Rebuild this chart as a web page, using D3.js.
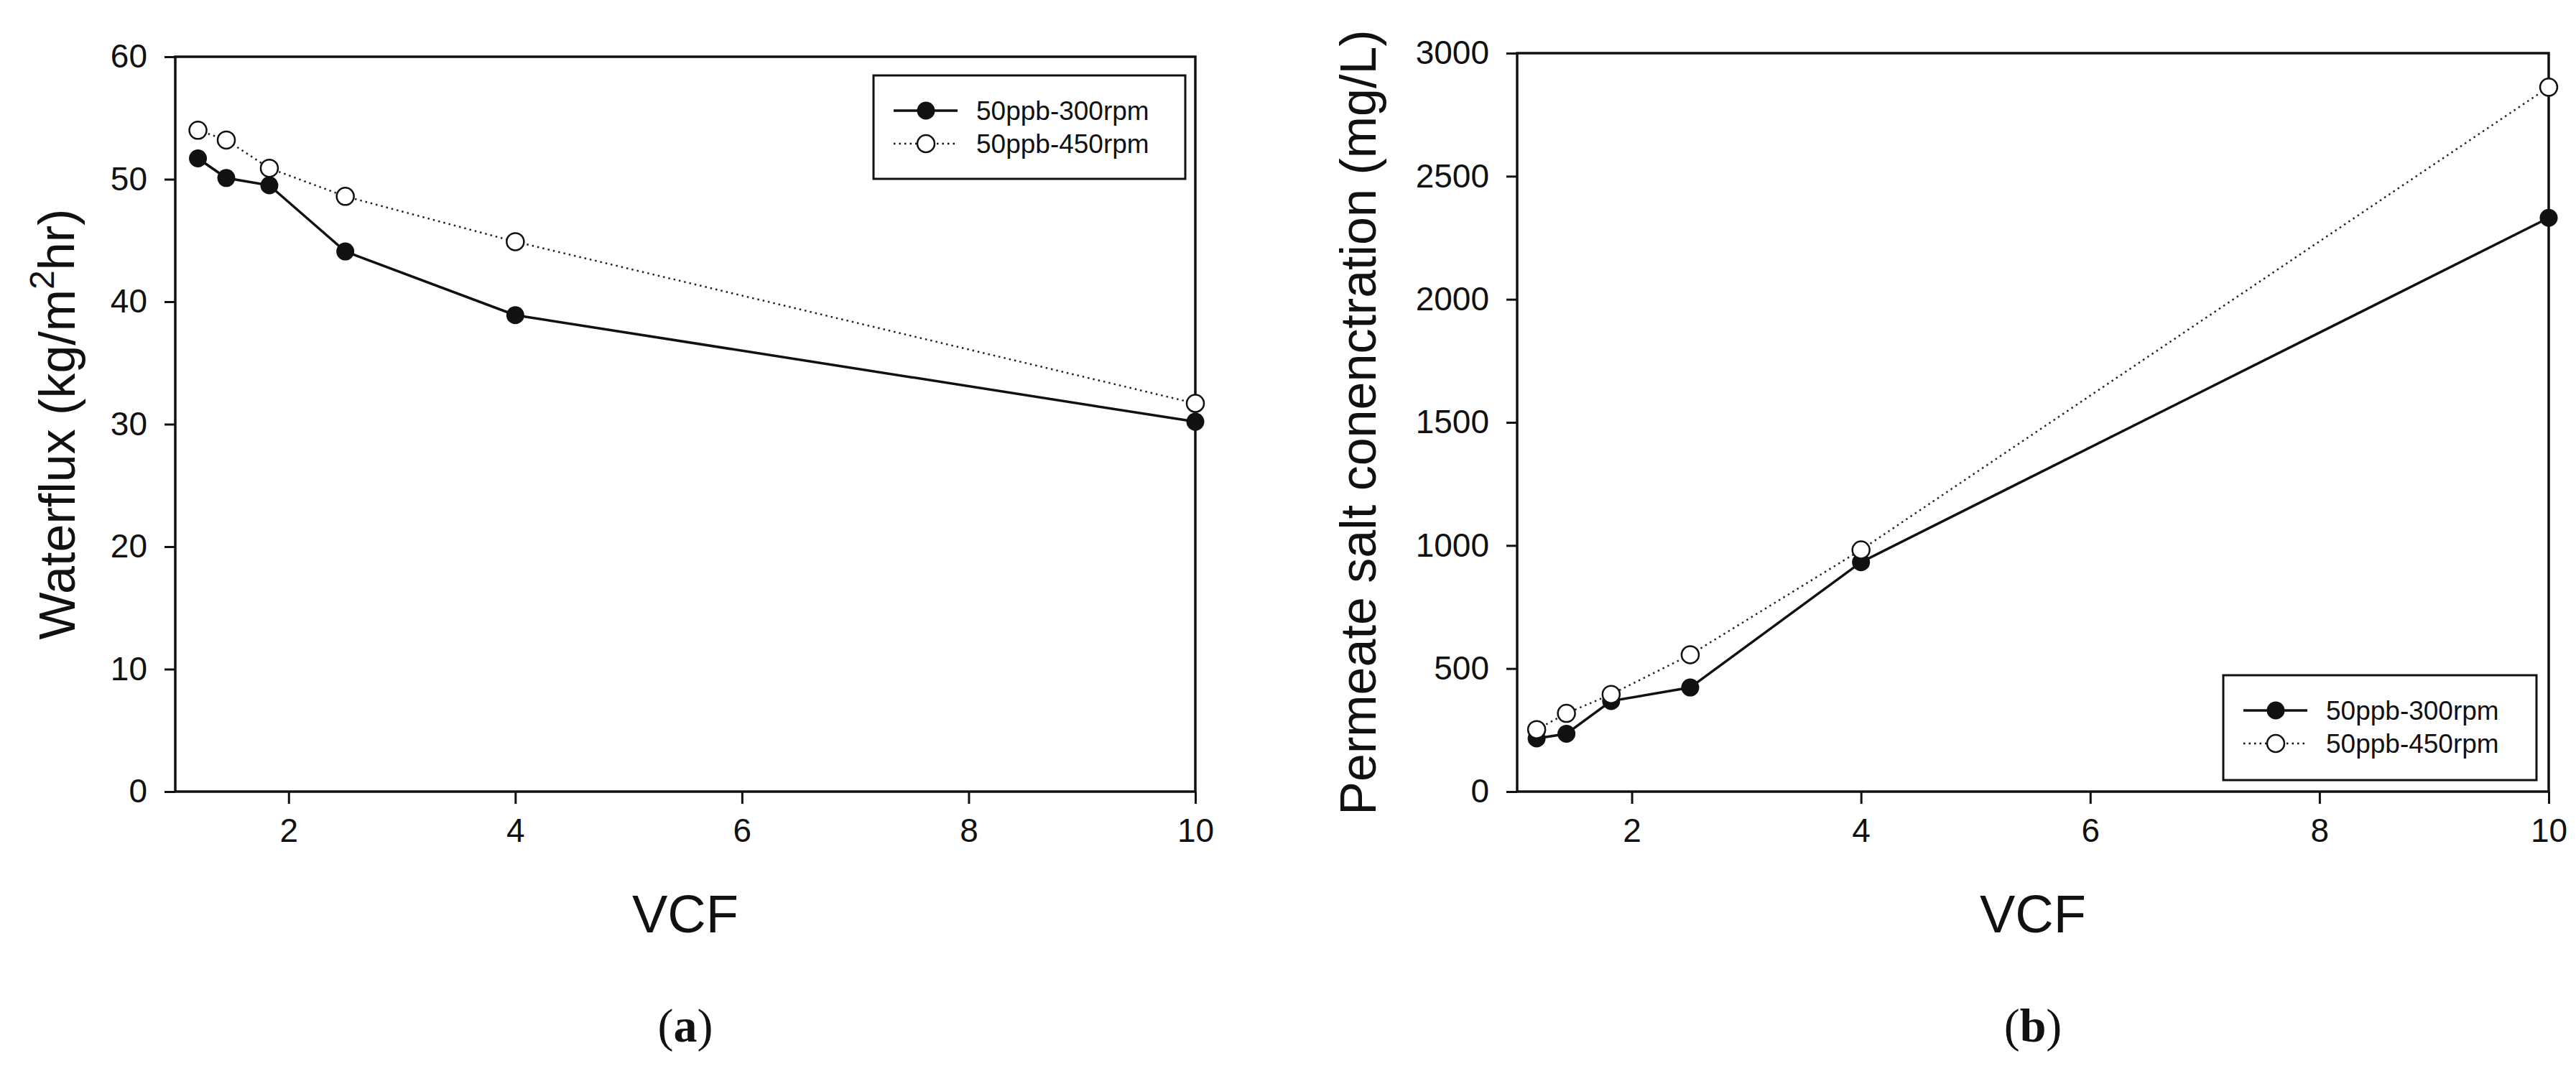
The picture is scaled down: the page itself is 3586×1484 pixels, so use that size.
<!DOCTYPE html>
<html>
<head>
<meta charset="utf-8">
<script src="https://cdn.jsdelivr.net/npm/d3@7"></script>
<style>
  body { margin: 0; background: #fff; }
  text { font-family: Arial, "Liberation Sans", sans-serif; fill: #111; }
</style>
</head>
<body>
<script>
// panel (a): water flux
const vcfA = [1.2, 1.45, 1.83, 2.5, 4, 10];
const fluxA300 = [51.7, 50.1, 49.5, 44.1, 38.9, 30.2];
const fluxA450 = [54.0, 53.2, 50.9, 48.6, 44.9, 31.7];
// panel (b): permeate salt
const vcfB = [1.17, 1.43, 1.82, 2.51, 4, 10];
const saltB300 = [216, 235, 368, 423, 932, 2331];
const saltB450 = [252, 318, 395, 556, 982, 2862];

const xTicks = [2, 4, 6, 8, 10];
const yTicksA = [0, 10, 20, 30, 40, 50, 60];
const yTicksB = [0, 500, 1000, 1500, 2000, 2500, 3000];
const seriesNames = ["50ppb-300rpm", "50ppb-450rpm"];

const svg = d3.select("body").append("svg")
    .attr("width", 3586).attr("height", 1484);

let drawPanel = function(p) {
    let x = d3.scaleLinear().domain([1, 10]).range([p.left, p.right]);
    let y = d3.scaleLinear().domain([0, p.yMax]).range([p.bottom, p.top]);
    let g = svg.append("g");

    g.append("g")
        .attr("transform", `translate(0,${p.bottom})`)
        .call(d3.axisBottom(x).tickValues(xTicks).tickFormat(d3.format("d")).tickSize(17).tickPadding(20))
        .call(a => a.select(".domain").remove())
        .call(a => a.selectAll("line").attr("stroke", "#111").attr("stroke-width", 3))
        .call(a => a.selectAll("text").attr("font-size", 46).attr("dy", "0.71em"));

    g.append("g")
        .attr("transform", `translate(${p.left},0)`)
        .call(d3.axisLeft(y).tickValues(p.yTicks).tickFormat(d3.format("d")).tickSize(15).tickPadding(24))
        .call(a => a.select(".domain").remove())
        .call(a => a.selectAll("line").attr("stroke", "#111").attr("stroke-width", 3))
        .call(a => a.selectAll("text").attr("font-size", 46));

    g.append("rect")
        .attr("x", p.left).attr("y", p.top)
        .attr("width", p.right - p.left).attr("height", p.bottom - p.top)
        .attr("fill", "none").attr("stroke", "#111").attr("stroke-width", 3.5);

    let line = d3.line().x(d => x(d[0])).y(d => y(d[1]));
    let s300 = p.xs.map((v, i) => [v, p.y300[i]]);
    let s450 = p.xs.map((v, i) => [v, p.y450[i]]);

    g.append("path").datum(s450).attr("d", line)
        .attr("fill", "none").attr("stroke", "#222").attr("stroke-width", 2.5)
        .attr("stroke-dasharray", "2.5,5");
    g.append("path").datum(s300).attr("d", line)
        .attr("fill", "none").attr("stroke", "#111").attr("stroke-width", 3.5);

    g.selectAll(".m300").data(s300).enter().append("circle")
        .attr("cx", d => x(d[0])).attr("cy", d => y(d[1])).attr("r", 12.5)
        .attr("fill", "#111");
    g.selectAll(".m450").data(s450).enter().append("circle")
        .attr("cx", d => x(d[0])).attr("cy", d => y(d[1])).attr("r", 12)
        .attr("fill", "#fff").attr("stroke", "#111").attr("stroke-width", 2.5);

    // legend
    let L = p.legend;
    g.append("rect").attr("x", L.x).attr("y", L.y).attr("width", L.w).attr("height", L.h)
        .attr("fill", "#fff").attr("stroke", "#111").attr("stroke-width", 3);
    seriesNames.forEach((name, i) => {
        let ly = L.y + 49 + i * 46;
        let lx = L.x + 28;
        g.append("line").attr("x1", lx).attr("x2", lx + 89).attr("y1", ly).attr("y2", ly)
            .attr("stroke", "#111")
            .attr("stroke-width", i == 0 ? 3.5 : 2.5)
            .attr("stroke-dasharray", i == 0 ? null : "2.5,5");
        g.append("circle").attr("cx", lx + 45).attr("cy", ly).attr("r", i == 0 ? 12.5 : 12)
            .attr("fill", i == 0 ? "#111" : "#fff")
            .attr("stroke", "#111").attr("stroke-width", i == 0 ? 0 : 2.5);
        g.append("text").attr("x", lx + 115).attr("y", ly).attr("dy", "0.35em")
            .attr("font-size", 37).text(name);
    });

    // axis titles
    g.append("text").attr("x", (p.left + p.right) / 2).attr("y", 1298)
        .attr("text-anchor", "middle").attr("font-size", 74).text("VCF");
    let yt = g.append("text")
        .attr("transform", `translate(${p.titleX},${(p.top + p.bottom) / 2}) rotate(-90)`)
        .attr("text-anchor", "middle").attr("font-size", 70);
    p.yTitle(yt);

    let lab = g.append("text").attr("x", (p.left + p.right) / 2).attr("y", 1450)
        .attr("text-anchor", "middle").attr("font-size", 66)
        .style("font-family", "'Liberation Serif', 'DejaVu Serif', serif");
    lab.append("tspan").text("(");
    lab.append("tspan").attr("font-weight", "bold").text(p.tag);
    lab.append("tspan").text(")");
}

drawPanel({
    left: 244, right: 1664, top: 79, bottom: 1102, yMax: 60, yTicks: yTicksA,
    xs: vcfA, y300: fluxA300, y450: fluxA450,
    legend: { x: 1216, y: 105, w: 434, h: 144 },
    titleX: 104, tag: "a",
    yTitle: t => {
        t.append("tspan").text("Waterflux (kg/m");
        t.append("tspan").attr("font-size", 48).attr("dy", "-0.6em").text("2");
        t.append("tspan").attr("dy", "0.4em").text("hr)");
    }
});

drawPanel({
    left: 2112, right: 3548, top: 74, bottom: 1102, yMax: 3000, yTicks: yTicksB,
    xs: vcfB, y300: saltB300, y450: saltB450,
    legend: { x: 3095, y: 940, w: 436, h: 146 },
    titleX: 1915, tag: "b",
    yTitle: t => t.text("Permeate salt conenctration (mg/L)")
});
</script>
</body>
</html>
